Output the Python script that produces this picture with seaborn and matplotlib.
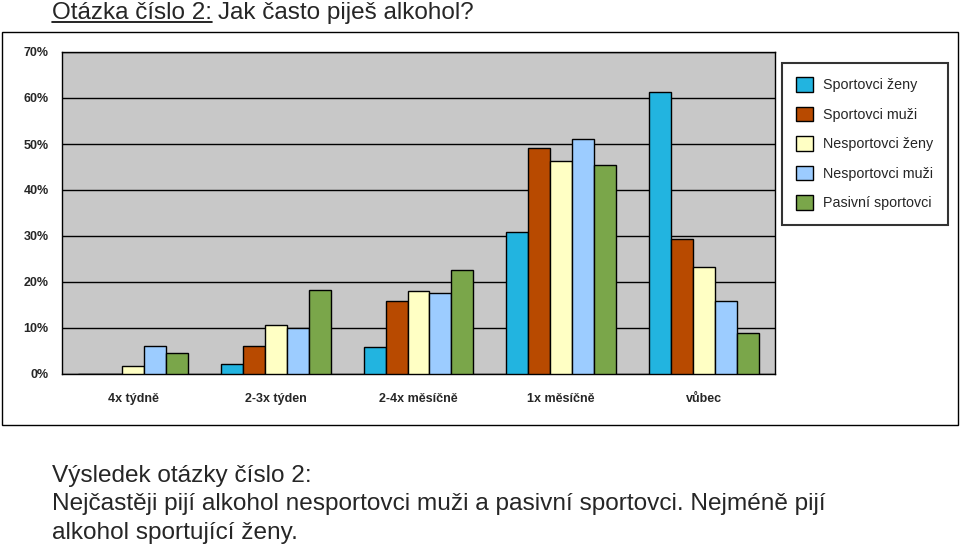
import matplotlib
matplotlib.use("Agg")
import matplotlib.pyplot as plt
import seaborn as sns
import pandas as pd
from matplotlib.patches import Rectangle, Patch
from matplotlib.lines import Line2D
from matplotlib.ticker import FixedLocator

categories = ["4x týdně", "2-3x týden", "2-4x měsíčně", "1x měsíčně", "vůbec"]
series = ["Sportovci ženy", "Sportovci muži", "Nesportovci ženy", "Nesportovci muži", "Pasivní sportovci"]
sportovci_zeny = [0.0, 2.1, 5.9, 30.8, 61.4]
sportovci_muzi = [0.0, 6.0, 15.8, 49.1, 29.4]
nesportovci_zeny = [1.8, 10.7, 18.0, 46.3, 23.2]
nesportovci_muzi = [6.0, 10.0, 17.6, 51.0, 15.8]
pasivni_sportovci = [4.6, 18.3, 22.7, 45.5, 9.0]
y_ticks = [0, 10, 20, 30, 40, 50, 60, 70]
colors = ["#22B4E0", "#B84A00", "#FFFFC4", "#9CCCFF", "#7AA64A"]

values = [sportovci_zeny, sportovci_muzi, nesportovci_zeny, nesportovci_muzi, pasivni_sportovci]
rows = []
for s, vals in zip(series, values):
    for c, v in zip(categories, vals):
        rows.append({"kategorie": c, "skupina": s, "hodnota": v})
df = pd.DataFrame(rows)

sns.set_style("white")
plt.rcParams["font.family"] = ["Liberation Sans", "DejaVu Sans"]

fig = plt.figure(figsize=(9.6, 5.45), dpi=100)
W, H = 960, 545

# outer chart frame
fig.patches.append(Rectangle((2 / W, 1 - 425 / H), 956 / W, 393 / H, transform=fig.transFigure,
                             fill=False, edgecolor="black", linewidth=1.0))

ax = fig.add_axes([62 / W, 1 - 374 / H, (775 - 62) / W, (374 - 52) / H])
ax.set_facecolor("#C8C8C8")

sns.barplot(data=df, x="kategorie", y="hodnota", hue="skupina", order=categories, hue_order=series,
            palette=colors, edgecolor="black", linewidth=1.0, width=0.77, ax=ax, legend=False,
            saturation=1.0, zorder=3)

ax.set_ylim(0, 70)
ax.set_xlim(-0.5, len(categories) - 0.5)
ax.set_yticks(y_ticks)
ax.set_yticklabels([f"{t}%" for t in y_ticks], fontsize=9, fontweight="bold")
ax.yaxis.grid(True, color="black", linewidth=1.0, zorder=0)
ax.set_axisbelow(True)
ax.xaxis.set_major_locator(FixedLocator([i - 0.5 for i in range(len(categories) + 1)]))
ax.set_xticklabels([""] * (len(categories) + 1))
ax.xaxis.set_minor_locator(FixedLocator(list(range(len(categories)))))
ax.set_xticklabels(categories, minor=True, fontsize=9, fontweight="bold")
ax.tick_params(axis="x", which="major", length=5, width=1, color="black", direction="out")
ax.tick_params(axis="x", which="minor", length=0, pad=14)
ax.tick_params(axis="y", length=6.5, width=1, color="black", direction="out", pad=3)
ax.set_xlabel("")
ax.set_ylabel("")
for sp in ax.spines.values():
    sp.set_color("black")
    sp.set_linewidth(1.0)
    sp.set_visible(True)

handles = [Patch(facecolor=c, edgecolor="black", linewidth=1.0) for c in colors]
leg = fig.legend(handles, series, loc="upper left", bbox_to_anchor=(782 / W, 1 - 63 / H),
                 bbox_transform=fig.transFigure, frameon=True, fancybox=False, fontsize=10.3,
                 handlelength=1.2, handleheight=1.2, labelspacing=1.0, handletextpad=0.7,
                 borderpad=1.0, borderaxespad=0)
leg.get_frame().set_edgecolor("black")
leg.get_frame().set_linewidth(1.5)

# title
t1 = fig.text(52 / W, 1 - 19 / H, "Otázka číslo 2:", fontsize=17.5, ha="left", va="baseline")
fig.canvas.draw()
r = fig.canvas.get_renderer()
bb = t1.get_window_extent(r)
x0, x1 = bb.x0 / W, bb.x1 / W
fig.add_artist(Line2D([x0, x1], [1 - 21.5 / H, 1 - 21.5 / H], transform=fig.transFigure,
                      color="black", linewidth=1.2))
fig.text(bb.x1 / W + 6 / W, 1 - 19 / H, "Jak často piješ alkohol?", fontsize=17.5, ha="left", va="baseline")

lines = ["Výsledek otázky číslo 2:",
         "Nejčastěji pijí alkohol nesportovci muži a pasivní sportovci. Nejméně pijí",
         "alkohol sportující ženy."]
for i, ln in enumerate(lines):
    fig.text(52 / W, 1 - (482 + 28.3 * i) / H, ln, fontsize=17.6, ha="left", va="baseline")

fig.savefig("out.png", dpi=100)
